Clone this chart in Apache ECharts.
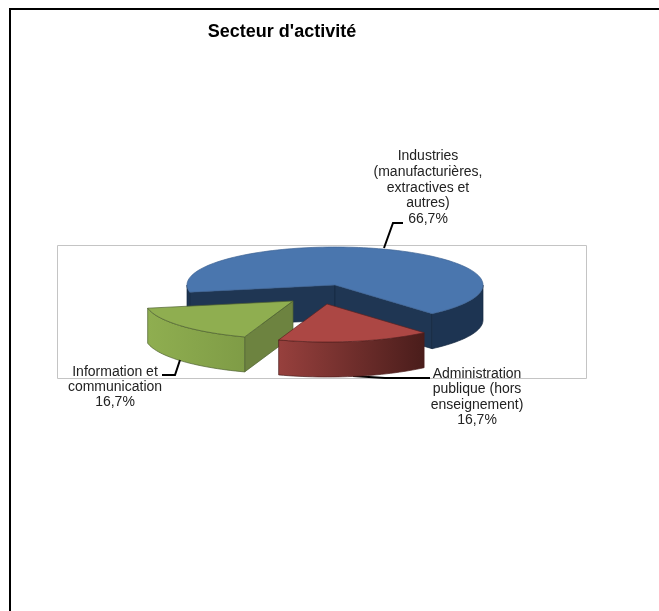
<!DOCTYPE html>
<html><head><meta charset="utf-8">
<style>html,body{margin:0;padding:0;background:#fff}#c{width:659px;height:611px}</style>
<script src="https://cdn.jsdelivr.net/npm/echarts@6/dist/echarts.min.js"></script>
</head><body><div id="c"></div>
<script>
const titleText = "Secteur d'activité";
const categories = ["Industries (manufacturières, extractives et autres)", "Administration publique (hors enseignement)", "Information et communication"];
const values = [66.7, 16.7, 16.7];
const valueLabels = ["66,7%", "16,7%", "16,7%"];
const labelLines = [
  ["Industries", "(manufacturières,", "extractives et", "autres)"],
  ["Administration", "publique (hors", "enseignement)"],
  ["Information et", "communication"]
];

const RX = 148, RY = 38, DEPTH = 35;
const CX = 335, CY = 285;
const START = 49;            // degrees clockwise from 3 o'clock on screen
const total = values.reduce((a, b) => a + b, 0);

const styles = [
  { offset: [0, 0], z: 0, top: '#4a76ae', radial: '#1f3653', edge: '#16283f',
    wall: ['#1d3452', '#1d3452'], stroke: '#3d6393' },
  { offset: [-8, 19], z: 40, top: '#ac4744', radial: '#6a2a28', edge: '#4a1d1b',
    wall: ['#97403d', '#4a1d1b'], stroke: '#5b2321' },
  { offset: [-42, 16], z: 20, top: '#8fae50', radial: '#6d8340', edge: '#4f6230',
    wall: ['#8fae50', '#7f9c46'], stroke: '#4f6230' }
];
const labelPos = [
  { x: 428, y: 156.5, lh: 15.7, leader: [[384, 248], [393, 223], [403, 223]] },
  { x: 477, y: 374, lh: 15.4, leader: [[353, 376], [385, 378], [430, 378]] },
  { x: 115, y: 372, lh: 15, leader: [[180, 360], [175, 375], [162, 375]] }
];

// Slice angles come from the values only, running clockwise on screen from START
function sliceAngles() {
  const out = [];
  let a = START;
  [1, 2, 0].forEach(i => {
    const sweep = values[i] / total * 360;
    out[i] = [a, a + sweep];
    a += sweep;
  });
  return out;
}
const rad = d => d * Math.PI / 180;
function pt(cx, cy, deg, dy) {
  return [cx + RX * Math.cos(rad(deg)), cy + RY * Math.sin(rad(deg)) + (dy || 0)];
}
function arc(cx, cy, a0, a1, dy) {
  const n = Math.max(2, Math.ceil(Math.abs(a1 - a0) / 2));
  const r = [];
  for (let i = 0; i <= n; i++) r.push(pt(cx, cy, a0 + (a1 - a0) * i / n, dy));
  return r;
}
function poly(points, fill, stroke, lw, z) {
  return { type: 'polygon', shape: { points }, z2: z,
    style: { fill, stroke: stroke || fill, lineWidth: lw == null ? 0.6 : lw } };
}
function hgrad(x0, x1, c0, c1) {
  return new echarts.graphic.LinearGradient(x0, 0, x1, 0, [{ offset: 0, color: c0 }, { offset: 1, color: c1 }], true);
}
function renderItem(params, api) {
  const i = params.dataIndex;
  const s = styles[i];
  const ang = sliceAngles()[i];
  const a0 = ang[0], a1 = ang[1];
  const cx = CX + s.offset[0], cy = CY + s.offset[1];
  const z0 = s.z;
  const kids = [];
  const apex = [cx, cy], apexB = [cx, cy + DEPTH];
  // radial walls whose outward normal faces the viewer
  if (Math.sin(rad(a0 - 90)) > 0) {
    kids.push(poly([apex, pt(cx, cy, a0), pt(cx, cy, a0, DEPTH), apexB], s.radial, s.edge, 0.7, z0 + 1));
  }
  if (Math.sin(rad(a1 + 90)) > 0) {
    kids.push(poly([apex, pt(cx, cy, a1), pt(cx, cy, a1, DEPTH), apexB], s.radial, s.edge, 0.7, z0 + 1));
  }
  // outer wall: the part of the rim that faces the viewer (0..180 degrees)
  [[a0, a1], [a0 - 360, a1 - 360]].forEach(r => {
    const l = Math.max(r[0], 0), h = Math.min(r[1], 180);
    if (h <= l) return;
    const top = arc(cx, cy, l, h);
    const bot = arc(cx, cy, h, l, DEPTH);
    const xs = top.map(p => p[0]);
    const fill = hgrad(Math.min.apply(null, xs), Math.max.apply(null, xs), s.wall[0], s.wall[1]);
    kids.push(poly(top.concat(bot), fill, s.edge, 0.7, z0 + 2));
  });
  // top face
  kids.push(poly([apex].concat(arc(cx, cy, a0, a1)), s.top, s.stroke, 0.7, z0 + 3));
  // leader line
  const lp = labelPos[i];
  kids.push({ type: 'polyline', z2: i === 1 ? 10 : 60, shape: { points: lp.leader },
    style: { fill: null, stroke: '#000', lineWidth: 2 } });
  // label text
  labelLines[i].concat([valueLabels[i]]).forEach((t, k) => {
    kids.push({ type: 'text', z2: 61, x: lp.x, y: lp.y + k * lp.lh,
      style: { text: t, fill: '#222', align: 'center', verticalAlign: 'middle',
        font: '14px "Liberation Sans", Arial, sans-serif' } });
  });
  return { type: 'group', children: kids };
}
const chart = echarts.init(document.getElementById('c'), null, { renderer: 'canvas' });
chart.setOption({
  animation: false,
  backgroundColor: '#fff',
  title: { text: titleText, left: 277, top: 18, textAlign: 'center',
    textStyle: { color: '#000', fontSize: 18, fontWeight: 'bold', fontFamily: '"Liberation Sans", Arial, sans-serif' } },
  graphic: [
    { type: 'rect', z: -1, shape: { x: 57.5, y: 245.5, width: 529, height: 133 },
      style: { fill: '#fff', stroke: '#c4c4c4', lineWidth: 1 } },
    { type: 'polyline', z: -1, shape: { points: [[10, 611], [10, 9], [659, 9]] },
      style: { fill: null, stroke: '#000', lineWidth: 2 } }
  ],
  series: [{
    type: 'custom',
    coordinateSystem: 'none',
    data: categories.map((name, i) => ({ name, value: values[i] })),
    renderItem,
    silent: true,
    z: 5
  }]
});
</script></body></html>
